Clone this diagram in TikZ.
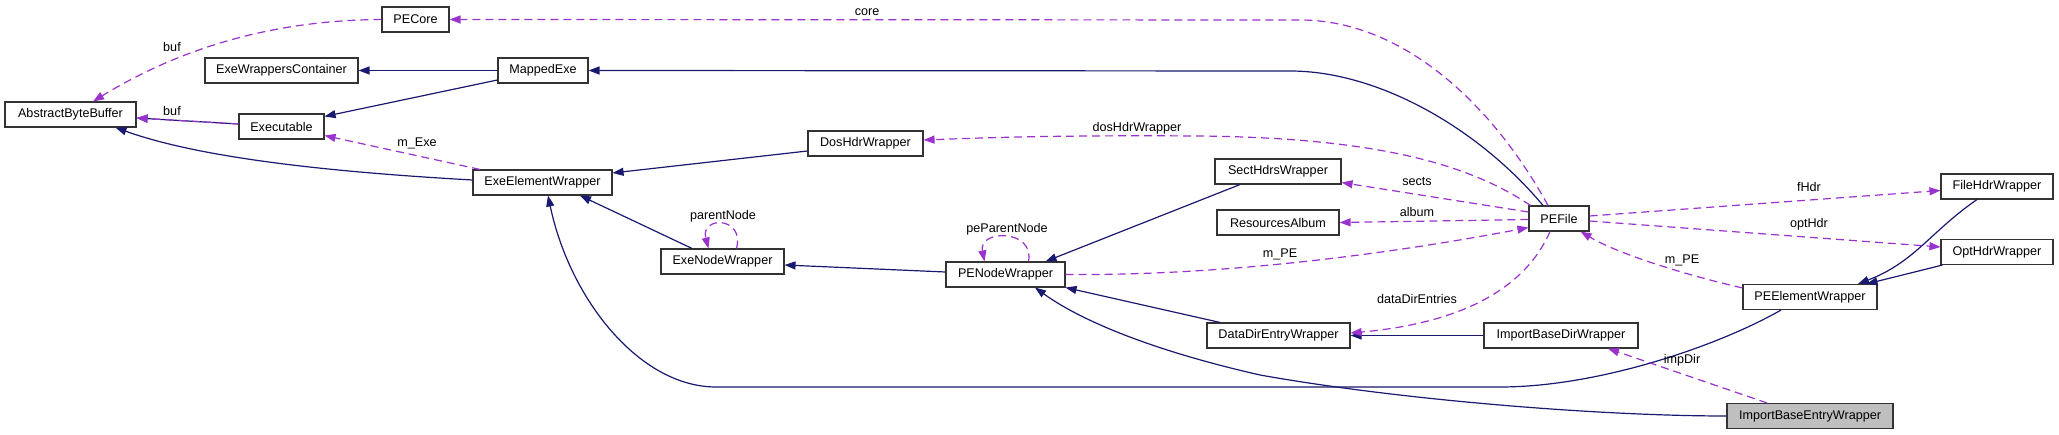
\documentclass[tikz,border=0pt]{standalone}
\usepackage{fontspec}
\setmainfont{Liberation Sans}
\usetikzlibrary{arrows.meta}
\definecolor{navy}{HTML}{191970}
\definecolor{orch}{HTML}{9A32CD}
\definecolor{boxgray}{HTML}{BFBFBF}
\begin{document}
\begin{tikzpicture}[x=1pt,y=-1pt,
  every node/.style={font=\fontsize{12.6}{14}\selectfont},
  cls/.style={draw=black!80, line width=1.1pt, fill=white, minimum height=25pt, inner sep=0pt, anchor=center},
  inh/.style={draw=navy, line width=1.2pt, -{Triangle[length=11pt,width=8pt]}},
  use/.style={draw=orch, line width=1.2pt, dash pattern=on 8pt off 5pt, -{Triangle[length=11pt,width=8pt]}},
  lbl/.style={inner sep=0pt, text=black}]
\useasboundingbox (0,0) rectangle (2059,435);
\fill[white] (0,0) rectangle (2059,435);

% classes
\node[cls, minimum width=67pt]  (pecore) at (415.5,19.5) {PECore};
\node[cls, minimum width=131pt] (abb)    at (70.5,114.5) {AbstractByteBuffer};
\node[cls, minimum width=153pt] (ewc)    at (281.5,70.5) {ExeWrappersContainer};
\node[cls, minimum width=90pt]  (mexe)   at (543,70.5) {MappedExe};
\node[cls, minimum width=85pt]  (exe)    at (281.5,126.5) {Executable};
\node[cls, minimum width=139pt] (eew)    at (542.5,182.5) {ExeElementWrapper};
\node[cls, minimum width=115pt] (dos)    at (865.5,143.5) {DosHdrWrapper};
\node[cls, minimum width=123pt] (enw)    at (722.5,261.5) {ExeNodeWrapper};
\node[cls, minimum width=119pt] (pnw)    at (1005.5,274.5) {PENodeWrapper};
\node[cls, minimum width=126pt] (shw)    at (1278,171.5) {SectHdrsWrapper};
\node[cls, minimum width=122pt] (ra)     at (1278,222.5) {ResourcesAlbum};
\node[cls, minimum width=60pt]  (pefile) at (1559,218.5) {PEFile};
\node[cls, minimum width=143pt] (ddew)   at (1278.5,335.5) {DataDirEntryWrapper};
\node[cls, minimum width=154pt] (ibdw)   at (1561,335.5) {ImportBaseDirWrapper};
\node[cls, minimum width=112pt] (fhw)    at (1997,186.5) {FileHdrWrapper};
\node[cls, minimum width=112pt] (ohw)    at (1997,252) {OptHdrWrapper};
\node[cls, minimum width=134pt] (peew)   at (1810,297) {PEElementWrapper};
\node[cls, minimum width=166pt, fill=boxgray] (ibew) at (1810,416) {ImportBaseEntryWrapper};

% inheritance (solid)
\draw[inh] (mexe.west) -- (ewc.east);
\draw[inh] ([yshift=-9.5pt]mexe.west) -- ([yshift=-3pt]exe.north east);
\draw[inh] ([yshift=2.5pt]exe.west) -- ([yshift=-3.5pt]abb.east);
\draw[inh] ([yshift=2.5pt]eew.west) .. controls (330,172) and (200,158) .. ([xshift=45pt]abb.south);
\draw[inh] ([yshift=-7.5pt]dos.west) -- ([yshift=9.5pt]eew.east);
\draw[inh] ([xshift=-30.5pt]enw.north) -- ([xshift=37.5pt]eew.south);
\draw[inh] ([yshift=2.5pt]pnw.west) -- ([yshift=-3.5pt]enw.east);
\draw[inh] ([xshift=-29pt]peew.south) .. controls (1720,345) and (1600,387) .. (1500,387)
  -- (716,387) .. controls (640,387) and (570,300) .. ([xshift=5.5pt]eew.south);
\draw[inh] ([xshift=-38pt]shw.south) -- ([xshift=-20pt]pnw.north east);
\draw[inh] ([xshift=-58.5pt]ddew.north) -- (pnw.south east);
\draw[inh] (ibew.west) .. controls (1600,416) and (1400,400) .. (1260,375)
  .. controls (1150,350) and (1080,320) .. ([xshift=29.5pt]pnw.south);
\draw[inh] ([xshift=-16pt]pefile.north) .. controls (1480,130) and (1380,71) .. (1290,71) -- (mexe.east);
\draw[inh] (ibdw.west) -- (ddew.east);
\draw[inh] ([xshift=-20pt]fhw.south) .. controls (1930,232) and (1915,262) .. ([xshift=48pt]peew.north);
\draw[inh] ([xshift=2pt]ohw.south west) -- ([xshift=-11pt]peew.north east);

% usage (dashed)
\draw[use] (pecore.west) .. controls (300,20) and (200,36) .. ([xshift=22.5pt]abb.north);
\draw[use] ([yshift=2.5pt]exe.west) -- ([yshift=-3.5pt]abb.east);
\draw[use] ([xshift=-62.5pt]eew.north) -- ([yshift=4pt]exe.south east);
\draw[use] ([xshift=14pt]enw.north) .. controls (745,216) and (700,216) .. ([xshift=-14pt]enw.north);
\draw[use] ([xshift=23pt]pnw.north) .. controls (1035,229) and (978,229) .. ([xshift=-21pt]pnw.north);
\draw[use] (pnw.east) .. controls (1230,276) and (1400,252) .. ([yshift=4pt]pefile.south west);
\draw[use] ([xshift=2pt]pefile.north west) .. controls (1470,165) and (1380,138) .. (1200,136)
  .. controls (1050,135) and (980,138) .. ([yshift=3.5pt]dos.east);
\draw[use] ([yshift=6.5pt]pefile.west) -- ([yshift=2pt]shw.south east);
\draw[use] ([yshift=-1pt]pefile.west) -- (ra.east);
\draw[use] ([xshift=-11pt]pefile.north) .. controls (1490,100) and (1400,20) .. (1300,20) -- (pecore.east);
\draw[use] ([xshift=-9pt]pefile.south) .. controls (1520,300) and (1440,325) .. ([yshift=2.5pt]ddew.east);
\draw[use] ([yshift=2.5pt]pefile.east) -- ([yshift=-4pt]fhw.west);
\draw[use] ([yshift=-2.5pt]pefile.east) -- ([yshift=5pt]ohw.west);
\draw[use] ([yshift=-4pt]peew.north west) .. controls (1690,276) and (1620,255) .. ([xshift=-9pt]pefile.south east);
\draw[use] ([xshift=-43pt]ibew.north) -- ([xshift=47pt]ibdw.south);

% labels
\node[lbl] (lbuf1)  at (172,47)  {buf};
\node[lbl] (lbuf2)  at (172,111) {buf};
\node[lbl] (lmexe)  at (417,143) {m\_Exe};
\node[lbl] (lpar)   at (723,216) {parentNode};
\node[lbl] (lppar)  at (1007,229) {peParentNode};
\node[lbl] (lcore)  at (867,12)  {core};
\node[lbl] (ldos)   at (1137,128) {dosHdrWrapper};
\node[lbl] (lsects) at (1417,181) {sects};
\node[lbl] (lalbum) at (1417,212) {album};
\node[lbl] (lmpe1)  at (1280,254) {m\_PE};
\node[lbl] (ldde)   at (1417,299) {dataDirEntries};
\node[lbl] (lfhdr)  at (1809,187) {fHdr};
\node[lbl] (lopt)   at (1809,224) {optHdr};
\node[lbl] (lmpe2)  at (1682,260) {m\_PE};
\node[lbl] (limp)   at (1682,360) {impDir};
\end{tikzpicture}
\end{document}
